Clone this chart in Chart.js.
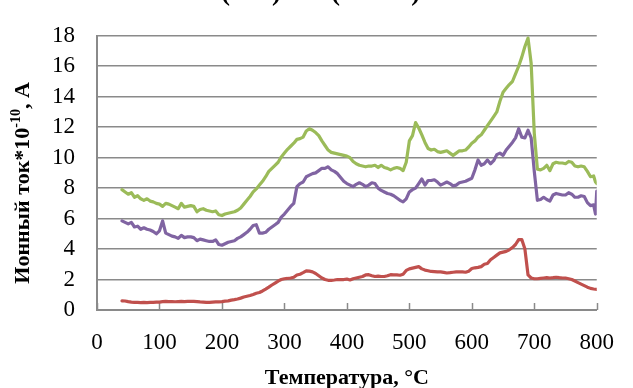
<!DOCTYPE html>
<html>
<head>
<meta charset="utf-8">
<script src="https://cdn.jsdelivr.net/npm/chart.js@4.4.1/dist/chart.umd.min.js"></script>
<style>
  html, body { margin: 0; padding: 0; background: #ffffff; }
  #wrap { width: 633px; height: 388px; }
</style>
</head>
<body>
<div id="wrap"><canvas id="chart" width="633" height="388"></canvas></div>
<script>
// Температура, °C
const temperature = [
  40, 45, 50, 55, 60, 65, 70, 75, 80, 85, 90, 95, 100, 105, 110, 115, 120, 125, 130, 135,
  140, 145, 150, 155, 160, 165, 170, 175, 180, 185, 190, 195, 200, 205, 210, 215, 220, 225, 230, 235,
  240, 245, 250, 255, 260, 265, 270, 275, 280, 285, 290, 295, 300, 305, 310, 315, 320, 325, 330, 335,
  340, 345, 350, 355, 360, 365, 370, 375, 380, 385, 390, 395, 400, 405, 410, 415, 420, 425, 430, 435,
  440, 445, 450, 455, 460, 465, 470, 475, 480, 485, 490, 495, 500, 505, 510, 515, 520, 525, 530, 535,
  540, 545, 550, 555, 560, 565, 570, 575, 580, 585, 590, 595, 600, 605, 610, 615, 620, 625, 630, 635,
  640, 645, 650, 655, 660, 665, 670, 675, 680, 685, 690, 695, 700, 705, 710, 715, 720, 725, 730, 735,
  740, 745, 750, 755, 760, 765, 770, 775, 780, 785, 790, 795, 798, 800
];

// Ионный ток ×10^-10 А — зелёная кривая
const currentGreen = [
  7.9, 7.75, 7.6, 7.7, 7.4, 7.5, 7.3, 7.2, 7.3, 7.15, 7.1, 7.0, 6.95, 6.8, 7.0, 6.95, 6.85, 6.75, 6.65, 7.0,
  6.75, 6.8, 6.85, 6.8, 6.45, 6.6, 6.65, 6.55, 6.5, 6.45, 6.5, 6.25, 6.2, 6.3, 6.35, 6.4, 6.45, 6.55, 6.7, 6.95,
  7.2, 7.45, 7.75, 7.95, 8.2, 8.45, 8.75, 9.1, 9.3, 9.5, 9.7, 10.05, 10.3, 10.55, 10.75, 10.95, 11.2, 11.25, 11.35, 11.75,
  11.9, 11.8, 11.65, 11.45, 11.1, 10.8, 10.5, 10.35, 10.3, 10.25, 10.2, 10.15, 10.1, 10.0, 9.75, 9.6, 9.5, 9.45, 9.4, 9.45,
  9.45, 9.5, 9.35, 9.5, 9.35, 9.3, 9.2, 9.3, 9.35, 9.3, 9.15, 9.7, 11.1, 11.45, 12.3, 11.95, 11.5, 11.0, 10.6, 10.5,
  10.55, 10.4, 10.35, 10.4, 10.45, 10.3, 10.15, 10.3, 10.45, 10.45, 10.5, 10.7, 10.95, 11.1, 11.35, 11.5, 11.8, 12.1, 12.4, 12.7,
  13.0, 13.7, 14.3, 14.55, 14.8, 15.0, 15.5, 16.0, 16.6, 17.3, 17.85, 16.2, 11.6, 9.25, 9.2, 9.3, 9.5, 9.15, 9.6, 9.7,
  9.65, 9.65, 9.6, 9.75, 9.7, 9.45, 9.4, 9.45, 9.4, 9.1, 8.75, 8.8, 8.4, 8.3
];

// Фиолетовая кривая
const currentPurple = [
  5.85, 5.75, 5.65, 5.75, 5.45, 5.5, 5.3, 5.4, 5.3, 5.25, 5.15, 5.0, 5.2, 5.85, 5.05, 4.95, 4.85, 4.8, 4.7, 4.9,
  4.75, 4.8, 4.8, 4.75, 4.55, 4.65, 4.6, 4.55, 4.5, 4.5, 4.6, 4.3, 4.25, 4.35, 4.45, 4.5, 4.55, 4.7, 4.8, 4.95,
  5.1, 5.3, 5.55, 5.6, 5.05, 5.05, 5.1, 5.3, 5.45, 5.6, 5.75, 6.1, 6.3, 6.55, 6.8, 7.0, 8.1, 8.3, 8.4, 8.75,
  8.85, 8.95, 9.0, 9.15, 9.3, 9.3, 9.4, 9.2, 9.1, 8.95, 8.7, 8.45, 8.3, 8.2, 8.1, 8.25, 8.35, 8.25, 8.1, 8.2,
  8.35, 8.3, 8.0, 7.85, 7.75, 7.65, 7.6, 7.5, 7.35, 7.2, 7.1, 7.3, 7.75, 7.9, 8.0, 8.3, 8.6, 8.2, 8.5, 8.5,
  8.55, 8.4, 8.2, 8.3, 8.4, 8.3, 8.15, 8.2, 8.35, 8.4, 8.45, 8.55, 8.65, 9.2, 9.85, 9.5, 9.6, 9.85, 9.6, 9.8,
  10.2, 10.3, 10.15, 10.5, 10.75, 11.0, 11.3, 11.9, 11.35, 11.3, 11.8, 11.3, 9.1, 7.2, 7.25, 7.4, 7.25, 7.15, 7.55, 7.65,
  7.6, 7.55, 7.55, 7.7, 7.6, 7.4, 7.4, 7.5, 7.45, 7.05, 6.85, 6.9, 6.3, 7.8
];

// Красная кривая
const currentRed = [
  0.6, 0.59, 0.55, 0.52, 0.5, 0.5, 0.49, 0.5, 0.48, 0.5, 0.5, 0.52, 0.52, 0.55, 0.57, 0.55, 0.55, 0.54, 0.55, 0.56,
  0.55, 0.56, 0.57, 0.57, 0.55, 0.53, 0.52, 0.5, 0.5, 0.52, 0.53, 0.53, 0.55, 0.58, 0.6, 0.65, 0.68, 0.72, 0.78, 0.85,
  0.9, 0.95, 1.02, 1.1, 1.15, 1.25, 1.37, 1.5, 1.64, 1.77, 1.9, 2.0, 2.05, 2.07, 2.1, 2.15, 2.3, 2.35, 2.45, 2.57,
  2.55, 2.5, 2.4, 2.25, 2.1, 2.0, 1.95, 1.95, 1.97, 2.0, 2.0, 2.0, 2.03, 1.97, 2.05, 2.1, 2.15, 2.2, 2.3, 2.32,
  2.25, 2.2, 2.22, 2.2, 2.2, 2.25, 2.32, 2.3, 2.3, 2.28, 2.35, 2.6, 2.7, 2.75, 2.8, 2.85, 2.7, 2.62, 2.58, 2.53,
  2.52, 2.5, 2.5, 2.47, 2.43, 2.45, 2.48, 2.5, 2.5, 2.5, 2.48, 2.55, 2.72, 2.77, 2.8, 2.85, 3.0, 3.05, 3.3, 3.45,
  3.6, 3.75, 3.8, 3.85, 3.95, 4.1, 4.3, 4.62, 4.62, 4.0, 2.3, 2.1, 2.05, 2.05, 2.08, 2.1, 2.12, 2.1, 2.12, 2.15,
  2.12, 2.1, 2.1, 2.05, 2.0, 1.9, 1.8, 1.7, 1.6, 1.5, 1.42, 1.38, 1.36, 1.35
];

const yTicks = [0, 2, 4, 6, 8, 10, 12, 14, 16, 18];
const xTicks = [0, 100, 200, 300, 400, 500, 600, 700, 800];

const SERIF = '"Liberation Serif", "Times New Roman", serif';
const GRID = '#8a8a8a';

const toPoints = vals => temperature.map((t, i) => ({ x: t, y: vals[i] }));

// Подписи осей, обрезанный заголовок и внутренние штрихи оси X
const decorations = {
  id: 'decorations',
  beforeDatasetsDraw(chart) {
    const { ctx, chartArea, scales } = chart;
    ctx.save();
    ctx.strokeStyle = GRID;
    ctx.lineWidth = 1.5;
    xTicks.forEach(v => {
      const px = Math.round(scales.x.getPixelForValue(v)) + 0.5;
      ctx.beginPath();
      ctx.moveTo(px, chartArea.bottom);
      ctx.lineTo(px, chartArea.bottom - 7);
      ctx.stroke();
    });
    ctx.restore();
  },
  afterDraw(chart) {
    const { ctx, chartArea } = chart;
    ctx.save();
    ctx.fillStyle = '#000000';

    // Заголовок (верхняя часть за краем холста)
    ctx.font = 'bold 27px ' + SERIF;
    ctx.textBaseline = 'alphabetic';
    ctx.textAlign = 'left';
    ctx.fillText('(m/z)', 221, -0.5);
    ctx.fillText('(a.m.u.)', 331, -0.5);

    // Подпись оси X
    ctx.font = 'bold 22px ' + SERIF;
    ctx.textAlign = 'center';
    ctx.fillText('Температура, °C', (chartArea.left + chartArea.right) / 2, 384);

    // Подпись оси Y с показателем степени
    const main = 'bold 22px ' + SERIF;
    const sup = 'bold 14px ' + SERIF;
    const parts = [
      { t: 'Ионный ток*10', f: main, dy: 0 },
      { t: '-10', f: sup, dy: -9 },
      { t: ', А', f: main, dy: 0 }
    ];
    let total = 0;
    parts.forEach(p => { ctx.font = p.f; p.w = ctx.measureText(p.t).width; total += p.w; });
    ctx.translate(29, (chartArea.top + chartArea.bottom) / 2 + 10);
    ctx.rotate(-Math.PI / 2);
    ctx.textAlign = 'left';
    let x = -total / 2;
    parts.forEach(p => { ctx.font = p.f; ctx.fillText(p.t, x, p.dy); x += p.w; });
    ctx.restore();
  }
};

new Chart(document.getElementById('chart'), {
  type: 'line',
  data: {
    datasets: [
      { data: toPoints(currentGreen), borderColor: '#9BBB59' },
      { data: toPoints(currentPurple), borderColor: '#8064A2' },
      { data: toPoints(currentRed), borderColor: '#C0504D' }
    ]
  },
  options: {
    responsive: false,
    animation: false,
    devicePixelRatio: 1,
    layout: { padding: { top: 25, right: 24, left: 0, bottom: 0 } },
    elements: {
      point: { radius: 0 },
      line: { borderWidth: 3.2, tension: 0, borderCapStyle: 'round', borderJoinStyle: 'round' }
    },
    plugins: { legend: { display: false }, tooltip: { enabled: false }, title: { display: false } },
    scales: {
      x: {
        type: 'linear',
        min: 0,
        max: 800,
        afterBuildTicks: s => { s.ticks = xTicks.map(v => ({ value: v })); },
        afterFit: s => { s.height = 78; },
        grid: { display: false, drawTicks: false },
        border: { display: true, color: GRID, width: 2 },
        ticks: { padding: 19, autoSkip: false, color: '#000000', font: { family: SERIF, size: 23 }, maxRotation: 0 }
      },
      y: {
        min: 0,
        max: 18,
        afterBuildTicks: s => { s.ticks = yTicks.map(v => ({ value: v })); },
        afterFit: s => { s.width = 97; },
        grid: { color: GRID, lineWidth: 1.6, drawTicks: false },
        border: { display: true, color: GRID, width: 2 },
        ticks: { padding: 22, autoSkip: false, color: '#000000', font: { family: SERIF, size: 23 } }
      }
    }
  },
  plugins: [decorations]
});
</script>
</body>
</html>
